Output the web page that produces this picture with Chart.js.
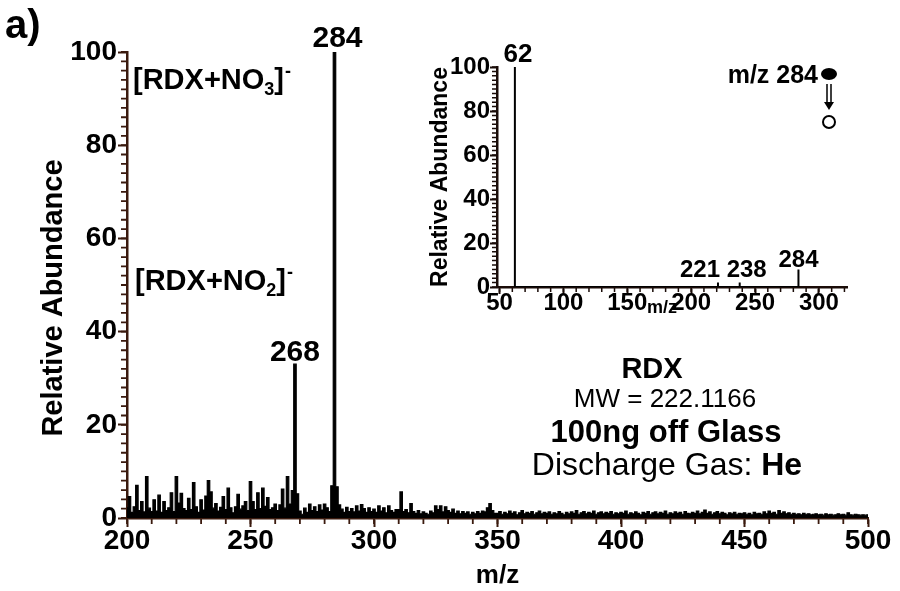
<!DOCTYPE html>
<html>
<head>
<meta charset="utf-8">
<script src="https://cdn.jsdelivr.net/npm/chart.js@4.4.1/dist/chart.umd.min.js"></script>
<style>
  body { margin: 0; background: #fff; }
  #wrap { position: relative; width: 900px; height: 591px; overflow: hidden; }
  #main-box { position: absolute; left: 0; top: 0; width: 900px; height: 591px; }
  #inset-box { position: absolute; left: 400px; top: 30px; width: 470px; height: 290px; }
</style>
</head>
<body>
<div id="wrap">
  <div id="main-box"><canvas id="main-chart"></canvas></div>
  <div id="inset-box"><canvas id="inset-chart"></canvas></div>
</div>
<script>
// main spectrum: one abundance value per m/z, starting at 200
const mainStart = 200;
const mainAbundance = [
  2.2, 4.6, 1.2, 2.4, 7.0, 1.6, 3.5, 1.3, 8.9, 2.1,
  1.4, 3.9, 1.5, 4.9, 1.2, 3.5, 1.6, 2.2, 5.4, 1.4,
  8.9, 3.2, 5.3, 2.0, 1.6, 4.2, 1.8, 7.6, 2.4, 1.2,
  3.9, 1.7, 4.7, 8.0, 5.6, 2.1, 3.1, 1.5, 2.3, 4.6,
  1.8, 6.4, 2.2, 1.1, 2.4, 5.1, 1.9, 2.6, 3.5, 1.6,
  7.8, 3.5, 1.8, 5.4, 2.0, 6.4, 2.5, 4.4, 1.8, 2.2,
  3.0, 1.6, 2.8, 6.2, 2.1, 8.9, 3.0, 5.9, 33, 5.2,
  1.5, 0.8, 2.1, 1.2, 3.0, 1.6, 2.4, 1.4, 2.8, 1.7,
  3.0, 2.2, 1.4, 6.9, 100, 6.7, 2.8, 1.9, 1.2, 2.3,
  1.4, 2.0, 1.3, 2.6, 1.5, 2.9, 2.0, 1.2, 2.2, 1.4,
  1.9, 1.2, 2.6, 1.5, 2.2, 1.1, 2.6, 1.6, 1.2, 1.8,
  1.8, 5.6, 1.4, 1.8, 1.1, 3.1, 1.4, 1.0, 1.6, 0.9,
  1.3, 1.0, 0.8, 1.5, 1.1, 2.6, 1.8, 2.6, 1.3, 2.4,
  1.6, 1.2, 1.9, 1.0, 1.5, 0.9, 1.4, 1.0, 1.3, 0.8,
  1.2, 0.9, 1.4, 1.0, 1.5, 1.3, 2.2, 3.1, 1.6, 1.0,
  1.0, 1.4, 0.8, 1.2, 0.9, 1.5, 1.0, 1.3, 0.7, 1.1,
  1.6, 0.9, 1.2, 1.0, 1.4, 0.8, 1.1, 1.5, 0.9, 1.2,
  1.0, 1.3, 0.8, 1.1, 0.9, 1.4, 1.0, 0.7, 1.2, 0.9,
  1.3, 1.0, 1.6, 0.8, 1.1, 1.4, 0.9, 1.2, 1.0, 1.5,
  0.8, 1.1, 1.3, 0.9, 1.2, 1.0, 1.4, 0.8, 1.1, 0.9,
  1.2, 1.0, 1.5, 0.8, 1.1, 0.9, 1.3, 1.0, 0.7, 1.2,
  1.0, 1.4, 0.8, 1.1, 1.3, 0.9, 1.2, 1.0, 1.5, 0.8,
  1.1, 0.9, 1.3, 1.0, 1.2, 0.8, 1.4, 1.0, 0.9, 1.2,
  1.0, 1.5, 0.9, 1.2, 1.7, 1.0, 1.3, 0.8, 1.1, 1.4,
  0.9, 1.2, 1.0, 0.7, 1.1, 0.9, 1.2, 0.8, 1.0, 0.9,
  1.1, 0.8, 1.0, 0.7, 1.2, 0.9, 1.0, 0.8, 1.3, 0.9,
  1.5, 1.0, 1.2, 0.8, 1.6, 1.0, 1.3, 0.9, 1.1, 0.8,
  1.0, 0.8, 0.9, 0.7, 1.0, 0.8, 0.9, 0.7, 0.8, 0.9,
  0.7, 0.8, 0.6, 0.9, 0.7, 0.8, 0.6, 0.7, 0.9, 0.7,
  0.8, 0.6, 1.1, 0.7, 0.6, 0.8, 0.7, 0.6, 0.7, 0.6,
  0.7
];
const mainXTicks = [200, 250, 300, 350, 400, 450, 500];
const mainYTicks = [0, 20, 40, 60, 80, 100];

// inset MS/MS spectrum of m/z 284: stick peaks
const insetMz = [62, 221, 238, 284];
const insetAbundance = [100, 2, 2, 8];
const insetXTicks = [50, 100, 150, 200, 250, 300];
const insetYTicks = [0, 20, 40, 60, 80, 100];

const axisBrown = '#3a1a0e';
const fontName = '"Liberation Sans", Arial, sans-serif';
Chart.defaults.font.family = fontName;
Chart.defaults.color = '#000';

let mainPoints = mainAbundance.map(function(v, i) {
  return {x: mainStart + i, y: v};
});

let insetPoints = [];
insetMz.forEach(function(mz, i) {
  insetPoints.push({x: mz, y: 0}, {x: mz, y: insetAbundance[i]}, {x: mz, y: 0});
});

//keep only the listed tick values
function keepTicks(list) {
  return function(scale) {
    scale.ticks = list.map(function(v) { return {value: v}; });
  };
}

function setFont(ctx, size, bold) {
  ctx.font = (bold ? 'bold ' : '') + size + 'px ' + fontName;
}

//draws a formula like [RDX+NO3]- with sub/superscript
function drawFormula(ctx, x, y, size, sub) {
  ctx.textAlign = 'left';
  setFont(ctx, size, true);
  ctx.fillText('[RDX+NO', x, y);
  x += ctx.measureText('[RDX+NO').width;
  setFont(ctx, Math.round(size * 0.62), true);
  ctx.fillText(sub, x, y + size * 0.2);
  x += ctx.measureText(sub).width;
  setFont(ctx, size, true);
  ctx.fillText(']', x, y);
  x += ctx.measureText(']').width;
  setFont(ctx, Math.round(size * 0.62), true);
  ctx.fillText('-', x + 1, y - size * 0.42);
}

//minor ticks plus free text, config kept in a closure
function makeExtras(cfg) {
  return {
    id: 'extras',
    afterDraw(chart) {
      const ctx = chart.ctx;
      const xs = chart.scales.x;
      const ys = chart.scales.y;
      ctx.save();
      ctx.strokeStyle = cfg.axisColor;
      ctx.lineWidth = cfg.tickWidth;
      ctx.beginPath();
      for (let v = Math.ceil(xs.min / cfg.xMinor) * cfg.xMinor; v <= xs.max; v += cfg.xMinor) {
        const px = xs.getPixelForValue(v);
        ctx.moveTo(px, xs.top);
        ctx.lineTo(px, xs.top + cfg.minorLen);
      }
      for (let v = 0; v <= ys.max; v += cfg.yMinor) {
        const py = ys.getPixelForValue(v);
        ctx.moveTo(ys.right, py);
        ctx.lineTo(ys.right - cfg.minorLen, py);
      }
      ctx.stroke();

      ctx.fillStyle = '#000';
      ctx.textBaseline = 'alphabetic';
      cfg.labels.forEach(function(l) {
        setFont(ctx, l.size, l.bold !== false);
        ctx.textAlign = l.align || 'center';
        let x = l.at !== undefined ? xs.getPixelForValue(l.at) + (l.dx || 0) : l.x;
        ctx.fillText(l.text, x, l.y);
      });
      if (cfg.draw) cfg.draw(ctx);
      ctx.restore();
    }
  };
}

new Chart(document.getElementById('main-chart'), {
  type: 'line',
  data: {
    datasets: [{
      data: mainPoints,
      borderColor: '#000',
      backgroundColor: '#000',
      borderWidth: 1.2,
      pointRadius: 0,
      stepped: 'middle',
      fill: 'origin'
    }]
  },
  options: {
    responsive: true,
    maintainAspectRatio: false,
    animation: false,
    events: [],
    layout: { padding: { top: 52, right: 32, left: 0, bottom: 0 } },
    plugins: {
      legend: { display: false },
      tooltip: { enabled: false }
    },
    scales: {
      x: {
        type: 'linear',
        min: 200,
        max: 500,
        afterBuildTicks: keepTicks(mainXTicks),
        afterFit: function(s) { s.height = 73; },
        ticks: { font: { size: 28, weight: 'bold' }, padding: -3, maxRotation: 0, autoSkip: false },
        grid: { drawOnChartArea: false, tickLength: 9, tickWidth: 2, tickColor: axisBrown },
        border: { color: axisBrown, width: 2.5 },
        title: { display: true, text: 'm/z', font: { size: 26, weight: 'bold' }, padding: { top: 0, bottom: 0 } }
      },
      y: {
        min: 0,
        max: 100,
        afterBuildTicks: keepTicks(mainYTicks),
        afterFit: function(s) { s.width = 127; },
        ticks: { font: { size: 28, weight: 'bold' }, padding: 1 },
        grid: { drawOnChartArea: false, tickLength: 9, tickWidth: 2, tickColor: axisBrown },
        border: { color: axisBrown, width: 2.5 }
      }
    }
  },
  plugins: [makeExtras({
    axisColor: axisBrown,
    tickWidth: 1.8,
    xMinor: 10,
    yMinor: 2,
    minorLen: 6,
    labels: [
      {text: 'a)', x: 5, y: 38, size: 40, align: 'left'},
      {text: '284', at: 284, dx: 3, y: 47, size: 30},
      {text: '268', at: 268, y: 361, size: 30}
    ],
    draw: function(ctx) {
      // y axis title
      ctx.save();
      ctx.translate(62, 298);
      ctx.rotate(-Math.PI / 2);
      ctx.textAlign = 'center';
      setFont(ctx, 29, true);
      ctx.fillText('Relative Abundance', 0, 0);
      ctx.restore();

      drawFormula(ctx, 133, 89, 29, '3');
      drawFormula(ctx, 135, 290, 29, '2');

      ctx.textAlign = 'center';
      setFont(ctx, 29, true);
      ctx.fillText('RDX', 652, 378);
      setFont(ctx, 26, false);
      ctx.fillText('MW = 222.1166', 665, 407);
      setFont(ctx, 31, true);
      ctx.fillText('100ng off Glass', 666, 442);
      setFont(ctx, 32, false);
      let w1 = ctx.measureText('Discharge Gas: ').width;
      setFont(ctx, 32, true);
      let w2 = ctx.measureText('He').width;
      let sx = 667 - (w1 + w2) / 2;
      ctx.textAlign = 'left';
      setFont(ctx, 32, false);
      ctx.fillText('Discharge Gas: ', sx, 475);
      setFont(ctx, 32, true);
      ctx.fillText('He', sx + w1, 475);
    }
  })]
});

new Chart(document.getElementById('inset-chart'), {
  type: 'line',
  data: {
    datasets: [{
      data: insetPoints,
      borderColor: '#000',
      borderWidth: 2,
      pointRadius: 0
    }]
  },
  options: {
    responsive: true,
    maintainAspectRatio: false,
    animation: false,
    events: [],
    layout: { padding: { top: 37, right: 23, left: 0, bottom: 0 } },
    plugins: {
      legend: { display: false },
      tooltip: { enabled: false }
    },
    scales: {
      x: {
        type: 'linear',
        min: 48,
        max: 322,
        afterBuildTicks: keepTicks(insetXTicks),
        afterFit: function(s) { s.height = 33; },
        ticks: { font: { size: 24, weight: 'bold' }, padding: -5, maxRotation: 0, autoSkip: false },
        grid: { drawOnChartArea: false, tickLength: 7, tickWidth: 2, tickColor: '#1a0c08' },
        border: { color: '#1a0c08', width: 2.5 }
      },
      y: {
        min: 0,
        max: 100,
        afterBuildTicks: keepTicks(insetYTicks),
        afterFit: function(s) { s.width = 97; },
        ticks: { font: { size: 24, weight: 'bold' }, padding: 0 },
        grid: { drawOnChartArea: false, tickLength: 7, tickWidth: 2, tickColor: '#1a0c08' },
        border: { color: '#1a0c08', width: 2.5 },
        title: { display: true, text: 'Relative Abundance', font: { size: 23, weight: 'bold' }, padding: { top: 27, bottom: 0 } }
      }
    }
  },
  plugins: [makeExtras({
    axisColor: '#1a0c08',
    tickWidth: 1.5,
    xMinor: 10,
    yMinor: 2,
    minorLen: 5,
    labels: [
      {text: '62', at: 62, dx: 3, y: 32, size: 26},
      {text: '221', at: 221, dx: -18, y: 247, size: 24},
      {text: '238', at: 238, dx: 7, y: 247, size: 24},
      {text: '284', at: 284, y: 237, size: 24},
      {text: 'm/z 284', x: 418, y: 53, size: 25, align: 'right'},
      {text: 'm/z', x: 262, y: 283, size: 18}
    ],
    draw: function(ctx) {
      // precursor (filled) -> fragment (open) symbol
      ctx.fillStyle = '#000';
      ctx.beginPath();
      ctx.ellipse(429, 44, 8, 6, 0, 0, Math.PI * 2);
      ctx.fill();
      ctx.strokeStyle = '#000';
      ctx.lineWidth = 1.5;
      ctx.beginPath();
      ctx.moveTo(427, 54); ctx.lineTo(427, 72);
      ctx.moveTo(431, 54); ctx.lineTo(431, 72);
      ctx.stroke();
      ctx.beginPath();
      ctx.moveTo(424, 72); ctx.lineTo(434, 72); ctx.lineTo(429, 80);
      ctx.closePath();
      ctx.fill();
      ctx.lineWidth = 2;
      ctx.beginPath();
      ctx.arc(429, 92, 6, 0, Math.PI * 2);
      ctx.stroke();
    }
  })]
});
</script>
</body>
</html>
